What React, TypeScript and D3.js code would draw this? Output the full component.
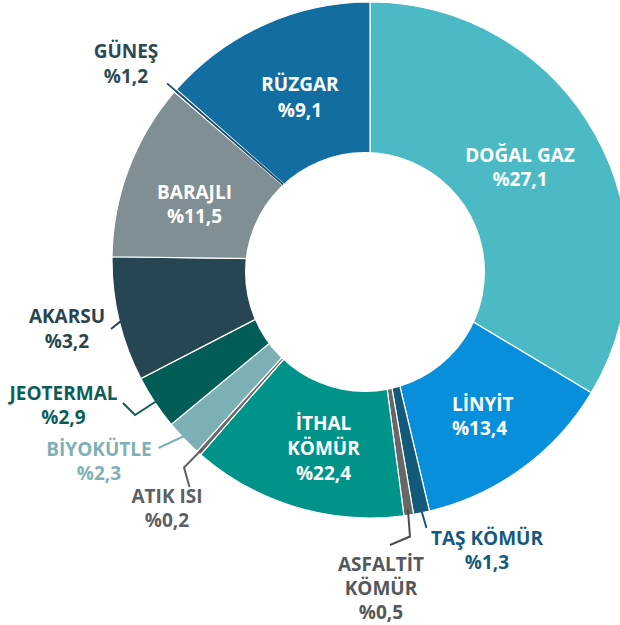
import React from "react";
import * as d3 from "d3";

const WIDTH = 620;
const HEIGHT = 625;
const CENTER = { x: 370, y: 260 };
const OUTER_R = 258;
// the white hole sits a little lower and left of the ring centre in the original
const HOLE = { x: 365, y: 272, r: 120 };

// energy sources, clockwise from 12 o'clock
const categories = [
  "DOĞAL GAZ",
  "LİNYİT",
  "TAŞ KÖMÜR",
  "ASFALTİT KÖMÜR",
  "İTHAL KÖMÜR",
  "ATIK ISI",
  "BİYOKÜTLE",
  "JEOTERMAL",
  "AKARSU",
  "BARAJLI",
  "GÜNEŞ",
  "RÜZGAR"
];
// printed shares
const shareLabels = ["%27,1", "%13,4", "%1,3", "%0,5", "%22,4", "%0,2", "%2,3", "%2,9", "%3,2", "%11,5", "%1,2", "%9,1"];
// slice sizes as drawn in the picture (percent of the circle)
const sliceShares = [33.6, 12.7, 1.0, 0.6, 13.5, 0.3, 2.3, 3.4, 7.8, 11.1, 0.2, 13.5];
const sliceColors = [
  "#4bbac4",
  "#078fdb",
  "#135a7a",
  "#676767",
  "#00938a",
  "#6a6a6a",
  "#7db0b4",
  "#025d57",
  "#264653",
  "#7f8f94",
  "#1b4d6b",
  "#126ea0"
];

// label placement: first baseline, anchor, line gap, colour, optional leader elbow points
const LABELS = {
  "DOĞAL GAZ": { x: 520, y: 161.5, lh: 24, anchor: "middle", color: "#fff", lines: ["DOĞAL GAZ"] },
  "LİNYİT": { x: 452, y: 411, lh: 24, anchor: "start", color: "#fff", lines: ["LİNYİT"] },
  "TAŞ KÖMÜR": { x: 487, y: 544.5, lh: 24, anchor: "middle", color: "#155a7c", lines: ["TAŞ KÖMÜR"], leader: [[426.5, 528]] },
  "ASFALTİT KÖMÜR": { x: 381, y: 571, lh: 24, anchor: "middle", color: "#53585c", lines: ["ASFALTİT", "KÖMÜR"], leader: [[410, 536.5], [390, 545]], leaderColor: "#4a4f53" },
  "İTHAL KÖMÜR": { x: 323.5, y: 430, lh: 25, anchor: "middle", color: "#fff", lines: ["İTHAL", "KÖMÜR"] },
  "ATIK ISI": { x: 167, y: 503, lh: 24, anchor: "middle", color: "#5b6064", lines: ["ATIK ISI"], leader: [[184, 467.5], [189.5, 487]], leaderColor: "#5b6064" },
  "BİYOKÜTLE": { x: 99, y: 456, lh: 24, anchor: "middle", color: "#7fb0b5", lines: ["BİYOKÜTLE"], leader: [[158.5, 448]] },
  "JEOTERMAL": { x: 63.5, y: 399.5, lh: 24, anchor: "middle", color: "#0b5e58", lines: ["JEOTERMAL"], leader: [[135, 415], [123, 403]] },
  "AKARSU": { x: 67, y: 323, lh: 25, anchor: "middle", color: "#27454f", lines: ["AKARSU"], leader: [[111, 329]] },
  "BARAJLI": { x: 194.5, y: 198.5, lh: 24.5, anchor: "middle", color: "#fff", lines: ["BARAJLI"] },
  "GÜNEŞ": { x: 126, y: 58.3, lh: 25, anchor: "middle", color: "#2c4a55", lines: ["GÜNEŞ"] },
  "RÜZGAR": { x: 300, y: 91, lh: 25.5, anchor: "middle", color: "#fff", lines: ["RÜZGAR"] }
};

const data = categories.map((name, i) => ({
  name,
  label: shareLabels[i],
  value: sliceShares[i],
  color: sliceColors[i]
}));

export default function App() {
  const pie = d3
    .pie<any>()
    .sort(null)
    .value(d => d.value)
    .startAngle(0)
    .endAngle(2 * Math.PI);
  const arcs = pie(data);

  const arc = d3.arc<any>().innerRadius(0).outerRadius(OUTER_R);

  const midAngle = a => (a.startAngle + a.endAngle) / 2;

  return (
    <svg
      width={WIDTH}
      height={HEIGHT}
      style={{ position: "absolute", left: 0, top: 0, background: "#fff" }}
      fontFamily="'Open Sans', 'Noto Sans', sans-serif"
      fontWeight={700}
      fontSize={19}
    >
      <g transform={`translate(${CENTER.x},${CENTER.y})`}>
        {arcs.map(a => (
          <path key={a.data.name} d={arc(a)} fill={a.data.color} stroke="#fff" strokeWidth={1.2} />
        ))}
        {/* güneş is only a sliver; its own colour runs across the ring and out past the edge */}
        {arcs
          .filter(a => a.data.name === "GÜNEŞ")
          .map(a => {
            const p0 = d3.pointRadial(midAngle(a), 100);
            const p1 = d3.pointRadial(midAngle(a), OUTER_R + 11);
            return (
              <line key="gunes" x1={p0[0]} y1={p0[1]} x2={p1[0]} y2={p1[1]} stroke={a.data.color} strokeWidth={1.8} />
            );
          })}
      </g>

      <circle cx={HOLE.x} cy={HOLE.y} r={HOLE.r} fill="#fff" />

      {arcs.map(a => {
        const cfg = LABELS[a.data.name];
        if (!cfg.leader) return null;
        const start = d3.pointRadial(midAngle(a), OUTER_R - 6);
        const pts = [[start[0] + CENTER.x, start[1] + CENTER.y], ...cfg.leader];
        return (
          <path
            key={"leader-" + a.data.name}
            d={d3.line()(pts as any)}
            fill="none"
            stroke={cfg.leaderColor || cfg.color}
            strokeWidth={2}
          />
        );
      })}

      {arcs.map(a => {
        const cfg = LABELS[a.data.name];
        const lines = [...cfg.lines, a.data.label];
        return (
          <text key={"label-" + a.data.name} fill={cfg.color} textAnchor={cfg.anchor}>
            {lines.map((t, i) => (
              <tspan key={i} x={cfg.x} y={cfg.y + i * cfg.lh}>
                {t}
              </tspan>
            ))}
          </text>
        );
      })}
    </svg>
  );
}
